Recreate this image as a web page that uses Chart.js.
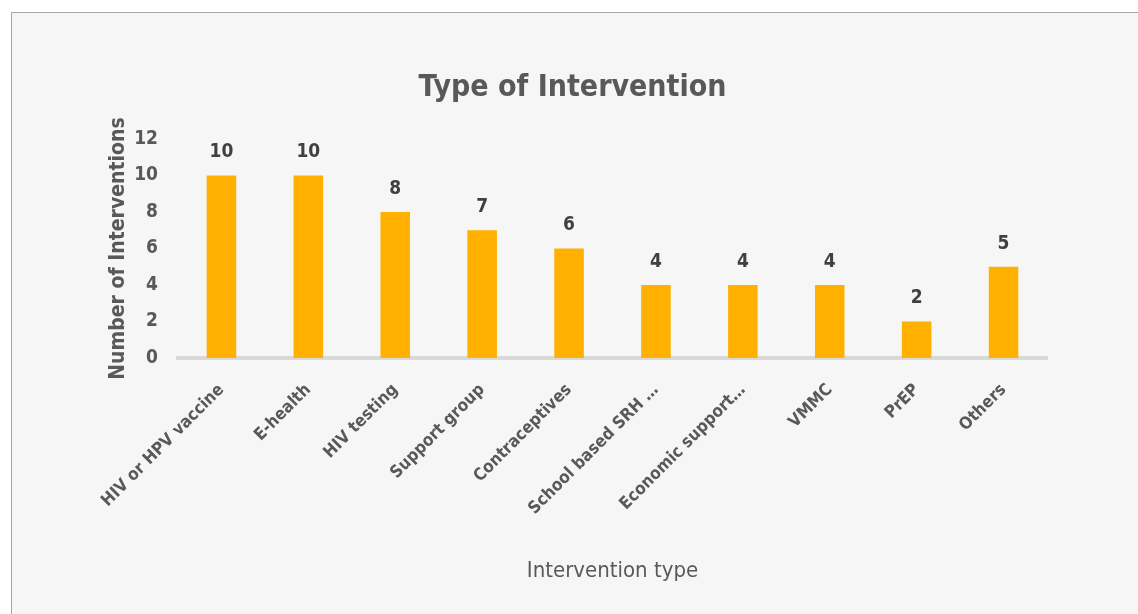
<!DOCTYPE html>
<html>
<head>
<meta charset="utf-8">
<script src="https://cdn.jsdelivr.net/npm/chart.js@4"></script>
<style>
  html, body { margin: 0; padding: 0; background: #fff; }
  #frame {
    position: absolute; left: 11px; top: 12px; width: 1140px; height: 610px;
    border: 1px solid #a6a6a6; background: #f6f6f6;
  }
  #wrap { position: absolute; left: 0; top: 0; width: 1138px; height: 614px; }
</style>
</head>
<body>
<div id="frame"></div>
<div id="wrap"><canvas id="chart"></canvas></div>
<script>
// data
const categories = [
    "HIV or HPV vaccine",
    "E-health",
    "HIV testing",
    "Support group",
    "Contraceptives",
    "School based SRH …",
    "Economic support…",
    "VMMC",
    "PrEP",
    "Others",
];
const interventionCounts = [10, 10, 8, 7, 6, 4, 4, 4, 2, 5];
const yTicks = [0, 2, 4, 6, 8, 10, 12];

const FONT = "'DejaVu Sans Condensed', 'Liberation Sans', sans-serif";
const TEXT = "#595959";

// value labels above the bars
const valueLabels = {
    id: "valueLabels",
    afterDatasetsDraw(chart) {
        const ctx = chart.ctx;
        const meta = chart.getDatasetMeta(0);
        ctx.save();
        ctx.font = "bold 19px " + FONT;
        ctx.fillStyle = "#404040";
        ctx.textAlign = "center";
        ctx.textBaseline = "middle";
        meta.data.forEach((bar, i) => {
            ctx.fillText(String(interventionCounts[i]), bar.x, bar.y - 23);
        });
        ctx.restore();
    },
};

new Chart(document.getElementById("chart"), {
    type: "bar",
    data: {
        labels: categories,
        datasets: [
            {
                data: interventionCounts,
                backgroundColor: "#FFB000",
                barPercentage: 0.34,
                categoryPercentage: 1,
            },
        ],
    },
    options: {
        responsive: true,
        maintainAspectRatio: false,
        animation: false,
        layout: { padding: { left: 98, right: 91, top: 0, bottom: 20 } },
        scales: {
            y: {
                min: 0,
                max: 12,
                afterFit: (s) => { s.width = 80; },
                afterBuildTicks: (s) => { s.ticks = yTicks.map((v) => ({ value: v })); },
                grid: { display: false, drawTicks: false },
                border: { display: false },
                ticks: {
                    padding: 20,
                    color: TEXT,
                    font: { family: FONT, size: 19, weight: "bold" },
                },
                title: {
                    display: true,
                    text: "Number of Interventions",
                    color: TEXT,
                    padding: { top: 8, bottom: 4 },
                    font: { family: FONT, size: 21, weight: "bold" },
                },
            },
            x: {
                afterFit: (s) => { s.height = 236; },
                grid: { display: false, drawTicks: false },
                border: { display: true, color: "#d9d9d9", width: 4 },
                ticks: {
                    padding: 22,
                    minRotation: 45,
                    maxRotation: 45,
                    autoSkip: false,
                    color: TEXT,
                    font: { family: FONT, size: 17, weight: "bold" },
                },
                title: {
                    display: true,
                    text: "Intervention type",
                    color: TEXT,
                    padding: { top: 4, bottom: 10 },
                    font: { family: FONT, size: 22 },
                },
            },
        },
        plugins: {
            legend: { display: false },
            tooltip: { enabled: false },
            title: {
                display: true,
                text: "Type of Intervention",
                color: TEXT,
                padding: { top: 70, bottom: 33 },
                font: { family: FONT, size: 30, weight: "bold" },
            },
        },
    },
    plugins: [valueLabels],
});
</script>
</body>
</html>
